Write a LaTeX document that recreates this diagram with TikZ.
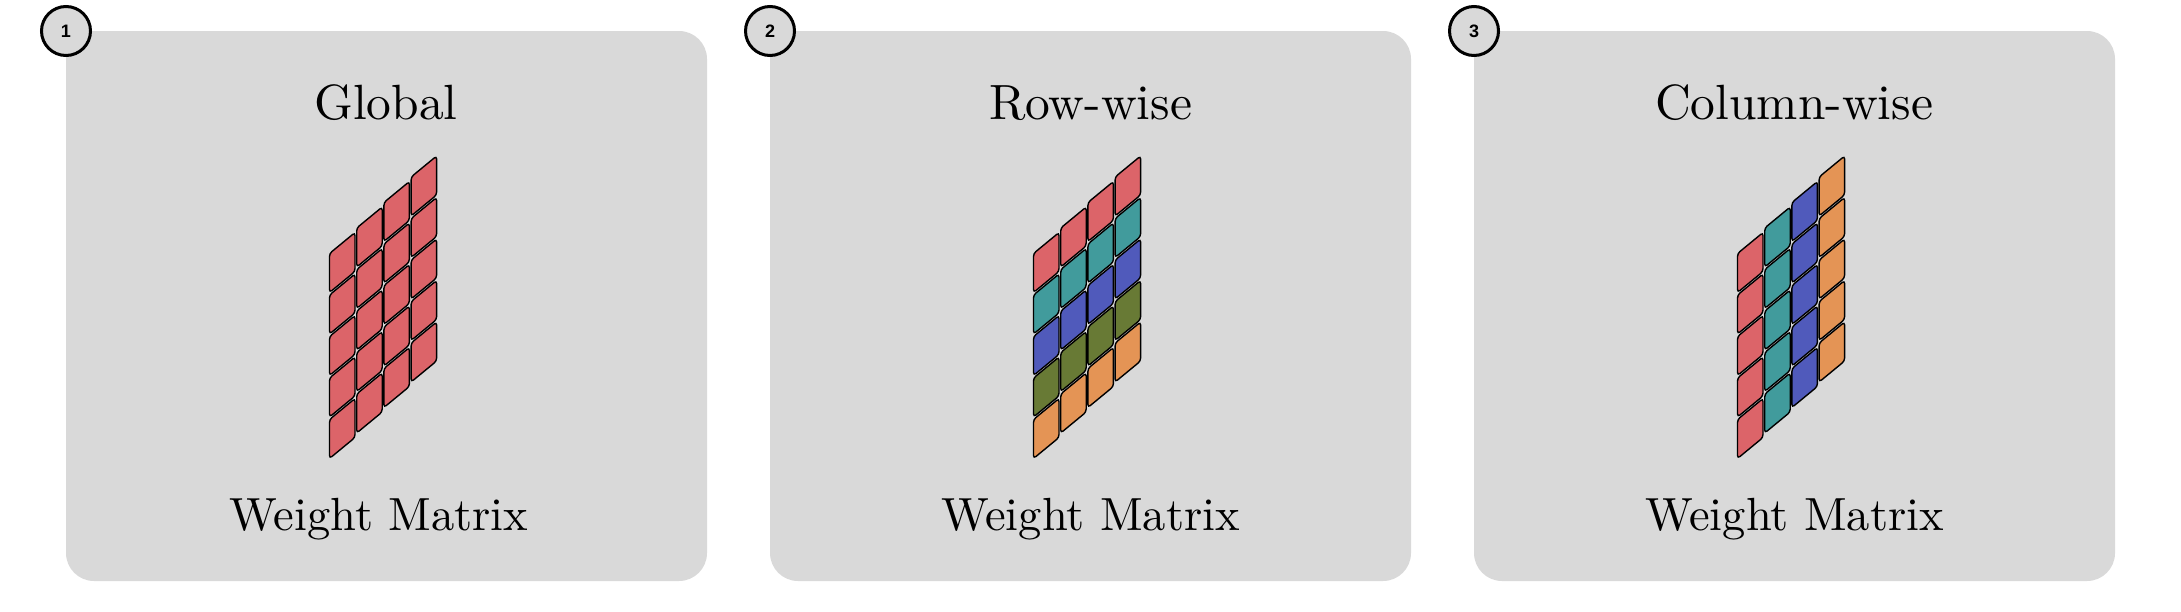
\documentclass[tikz,border=0pt]{standalone}
\usepackage{fontspec}
\setmainfont{lmroman10-regular.otf}
\newfontfamily\numfont{Liberation Sans}
\definecolor{panelgray}{HTML}{D9D9D9}
\definecolor{cred}{HTML}{DC6469}
\definecolor{cteal}{HTML}{419B9C}
\definecolor{cblue}{HTML}{505ABB}
\definecolor{colive}{HTML}{687A35}
\definecolor{corange}{HTML}{E49455}
% #1 column, #2 row, #3 horizontal offset, #4 colour
\newcommand\wtile[4]{%
  \pgfmathsetmacro\xa{329.5+27.2*#1+#3}%
  \pgfmathsetmacro\ya{253.5-25.5*#1+41.5*#2}%
  \draw[tile, fill=#4] (\xa,\ya+19) -- (\xa,\ya) -- ++(25.5,-21) -- ++(0,39) -- ++(-25.5,21) -- cycle;%
}
\begin{document}
\begin{tikzpicture}[x=1pt,y=-1pt,
  panel/.style={fill=panelgray, rounded corners=28pt},
  badge/.style={circle, draw=black, line width=3pt, fill=panelgray, minimum size=49pt, inner sep=0pt,
    font=\numfont\bfseries\fontsize{18}{18}\selectfont},
  title/.style={anchor=base, inner sep=0pt, font=\fontsize{49.5}{60}\selectfont},
  label/.style={anchor=base, inner sep=0pt, font=\fontsize{46.5}{56}\selectfont},
  tile/.style={draw=black, line width=1.4pt, rounded corners=3pt}]
\useasboundingbox (0,0) rectangle (2181,611);
% panels
\foreach \k in {0,1,2}{
  \fill[panel] (66+704*\k,31) rectangle (707+704*\k,581);
}
% panel 1: global
\foreach \c in {0,...,3}{\foreach \r in {0,...,4}{\wtile{\c}{\r}{0}{cred}}}
% panel 2: row-wise
\foreach \r/\col in {0/cred,1/cteal,2/cblue,3/colive,4/corange}{
  \foreach \c in {0,...,3}{\wtile{\c}{\r}{704}{\col}}}
% panel 3: column-wise
\foreach \c/\col in {0/cred,1/cteal,2/cblue,3/corange}{
  \foreach \r in {0,...,4}{\wtile{\c}{\r}{1408}{\col}}}
% titles
\node[title] (t1) at (386,119) {Global};
\node[title] (t2) at (1090.5,119) {Row-wise};
\node[title] (t3) at (1794,119) {Column-wise};
\node[label] (w1) at (379,530) {Weight Matrix};
\node[label] (w2) at (1090.5,530) {Weight Matrix};
\node[label] (w3) at (1794.5,530) {Weight Matrix};
% badges
\node[badge] (b1) at (66,31) {1};
\node[badge] (b2) at (770,31) {2};
\node[badge] (b3) at (1474,31) {3};
\end{tikzpicture}
\end{document}
